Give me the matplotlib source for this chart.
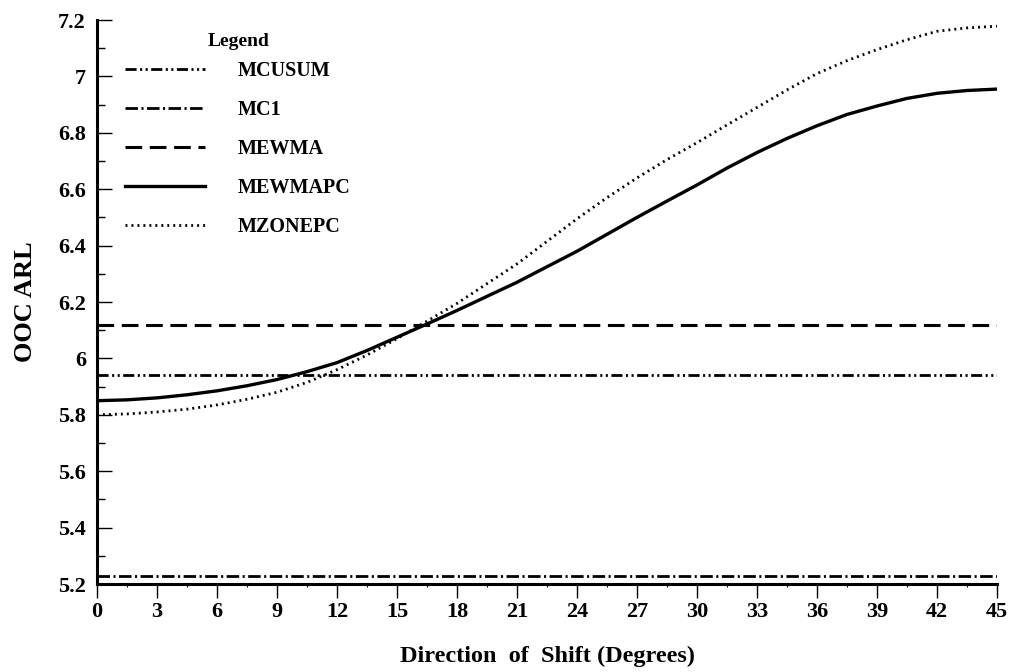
import matplotlib
matplotlib.use("Agg")
import matplotlib.pyplot as plt
from matplotlib.ticker import MultipleLocator

plt.rcParams['font.family'] = ['Liberation Serif', 'DejaVu Serif']
plt.rcParams['font.weight'] = 'bold'
plt.rcParams['lines.scale_dashes'] = False

# direction of shift (degrees), read every 1.5 degrees
angle = [0, 1.5, 3, 4.5, 6, 7.5, 9, 10.5, 12, 13.5, 15, 16.5, 18, 19.5, 21, 22.5,
         24, 25.5, 27, 28.5, 30, 31.5, 33, 34.5, 36, 37.5, 39, 40.5, 42, 43.5, 45]

# flat charts (do not depend on direction)
mcusum = 5.94
mc1 = 5.23
mewma = 6.12

# direction-dependent charts
mewmapc = [5.850, 5.853, 5.860, 5.871, 5.885, 5.903, 5.925, 5.953, 5.985, 6.028,
           6.075, 6.122, 6.170, 6.220, 6.270, 6.325, 6.380, 6.440, 6.500, 6.558,
           6.615, 6.675, 6.730, 6.780, 6.825, 6.865, 6.895, 6.922, 6.940, 6.950, 6.955]
mzonepc = [5.800, 5.803, 5.810, 5.820, 5.835, 5.855, 5.880, 5.915, 5.960, 6.012,
           6.070, 6.132, 6.195, 6.265, 6.335, 6.415, 6.495, 6.570, 6.640, 6.705,
           6.765, 6.828, 6.890, 6.952, 7.010, 7.056, 7.095, 7.130, 7.160, 7.172, 7.178]

fig = plt.figure(figsize=(10.11, 6.72), dpi=100)
ax = fig.add_axes([97 / 1011, 88 / 672, 900 / 1011, 564 / 672])

n = len(angle)
l1, = ax.plot(angle, [mcusum] * n, color='black', lw=2.0,
              linestyle=(0, (8, 2.5, 1.5, 2.5, 1.5, 2.5)), label='MCUSUM')
l2, = ax.plot(angle, [mc1] * n, color='black', lw=2.0,
              linestyle=(0, (9, 2.5, 1.5, 2.5)), label='MC1')
l3, = ax.plot(angle, [mewma] * n, color='black', lw=2.2,
              linestyle=(0, (12, 5.5)), label='MEWMA')
l4, = ax.plot(angle, mewmapc, color='black', lw=2.4, linestyle='-', label='MEWMAPC')
l5, = ax.plot(angle, mzonepc, color='black', lw=2.0,
              linestyle=(0, (1.4, 2.9)), label='MZONEPC')

ax.set_xlim(0, 45)
ax.set_ylim(5.2, 7.2)
ax.xaxis.set_major_locator(MultipleLocator(3))
ax.xaxis.set_minor_locator(MultipleLocator(1.5))
ax.yaxis.set_minor_locator(MultipleLocator(0.1))
ax.set_yticks([5.2, 5.4, 5.6, 5.8, 6.0, 6.2, 6.4, 6.6, 6.8, 7.0, 7.2])
ax.set_yticklabels(['5.2', '5.4', '5.6', '5.8', '6', '6.2', '6.4', '6.6', '6.8', '7', '7.2'])

for s in ['top', 'right']:
    ax.spines[s].set_visible(False)
for s in ['left', 'bottom']:
    ax.spines[s].set_linewidth(2.2)

ax.tick_params(axis='y', which='major', direction='in', length=11, width=1.0,
               labelsize=16, pad=8)
ax.tick_params(axis='y', which='minor', direction='in', length=5.5, width=1.0)
ax.tick_params(axis='x', which='major', direction='out', length=10, width=1.0,
               labelsize=16, pad=3)
ax.tick_params(axis='x', which='minor', direction='out', length=2, width=0.8)

ax.set_xlabel('Direction  of  Shift (Degrees)', fontsize=17.5, fontweight='bold', labelpad=17)
ax.set_ylabel('OOC ARL', fontsize=19, fontweight='bold', labelpad=15)

ax.text(0.123, 0.961, 'Legend', transform=ax.transAxes, fontsize=14,
        fontweight='bold', va='center', ha='left')
ax.legend(handles=[l1, l2, l3, l4, l5], loc='upper left', bbox_to_anchor=(0.031, 0.928),
          frameon=False, prop={'size': 14.5, 'weight': 'bold'}, handlelength=4.0,
          handletextpad=1.6, labelspacing=0.95, borderaxespad=0, borderpad=0)

fig.savefig('out.png', dpi=100)
